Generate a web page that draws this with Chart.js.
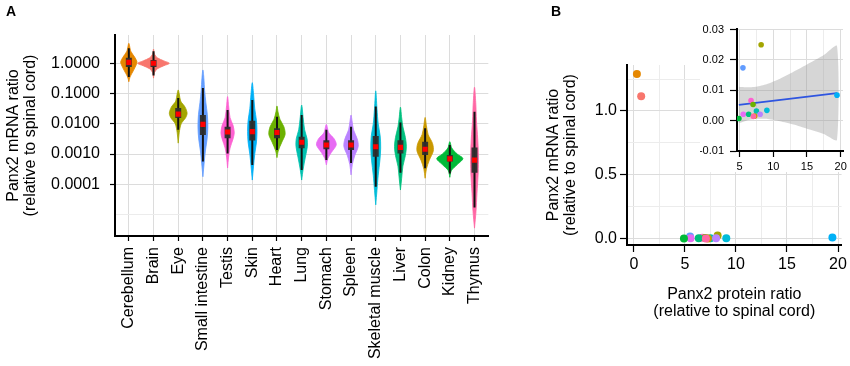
<!DOCTYPE html>
<html>
<head>
<meta charset="utf-8">
<script src="https://cdn.jsdelivr.net/npm/chart.js@4.4.1/dist/chart.umd.min.js"></script>
<style>
  body { margin: 0; background: #fff; }
  #wrap { position: relative; width: 850px; height: 366px; overflow: hidden; background: #fff; }
  canvas { position: absolute; top: 0; }
  .panel { position: absolute; top: 4px; font: bold 14px 'Liberation Sans', Arial, sans-serif; line-height: 14px; color: #000; }
</style>
</head>
<body>
<div id="wrap">
  <canvas id="violins" width="500" height="366" style="left:0"></canvas>
  <canvas id="scatter" width="330" height="366" style="left:520px"></canvas>
  <canvas id="inset" width="150" height="172" style="left:700px;background:#fff"></canvas>
  <div class="panel" style="left:6px">A</div>
  <div class="panel" style="left:551px">B</div>
</div>
<script>
const tissues = ['Cerebellum', 'Brain', 'Eye', 'Small intestine', 'Testis', 'Skin', 'Heart', 'Lung',
  'Stomach', 'Spleen', 'Skeletal muscle', 'Liver', 'Colon', 'Kidney', 'Thymus'];
const tissueColors = ['#E58700', '#F8766D', '#A3A500', '#619CFF', '#FD61D1', '#00B0F6', '#6BB100', '#00C0AF',
  '#E76BF3', '#B983FF', '#00BCD8', '#00BF7D', '#C99800', '#00BA38', '#FF67A4'];

// panel A, log10 of mRNA ratio (relative to spinal cord)
const medianLog = [0.03, 0.0, -1.68, -2.02, -2.27, -2.26, -2.29, -2.61, -2.7, -2.7, -2.76, -2.78, -2.84, -3.16, -3.2];
const boxLowLog = [-0.12, -0.12, -1.81, -2.37, -2.48, -2.55, -2.48, -2.81, -2.84, -2.87, -3.09, -2.98, -3.03, -3.25, -3.62];
const boxHighLog = [0.18, 0.11, -1.48, -1.71, -2.1, -1.9, -2.15, -2.43, -2.54, -2.54, -2.4, -2.54, -2.59, -3.03, -2.78];
const whiskerLowLog = [-0.45, -0.4, -2.2, -3.25, -2.98, -3.36, -2.87, -3.53, -3.2, -3.3, -4.08, -3.62, -3.47, -3.64, -4.77];
const whiskerHighLog = [0.5, 0.4, -1.15, -0.82, -1.54, -1.21, -1.77, -1.71, -2.2, -2.1, -1.43, -1.96, -2.15, -2.7, -1.6];

// violin outlines: log10 level and density half width, bottom tip to top tip
const violinLevels = [
  [-0.61, -0.45, -0.25, -0.05, 0.05, 0.2, 0.4, 0.66],
  [-0.49, -0.3, -0.18, -0.08, 0, 0.08, 0.18, 0.3, 0.47],
  [-2.64, -2.3, -2.0, -1.8, -1.65, -1.45, -1.25, -1.0, -0.88],
  [-3.75, -3.3, -2.9, -2.5, -2.1, -1.7, -1.3, -0.9, -0.5, -0.22],
  [-3.46, -3.1, -2.8, -2.5, -2.3, -2.05, -1.8, -1.4, -1.1],
  [-3.86, -3.4, -3.0, -2.6, -2.25, -1.9, -1.5, -1.0, -0.64],
  [-3.12, -2.9, -2.6, -2.35, -2.1, -1.85, -1.6, -1.41],
  [-3.86, -3.5, -3.1, -2.75, -2.5, -2.2, -1.8, -1.38],
  [-3.36, -3.15, -2.95, -2.7, -2.5, -2.3, -2.02],
  [-3.69, -3.35, -3.05, -2.75, -2.5, -2.2, -1.9, -1.71],
  [-4.68, -4.2, -3.7, -3.2, -2.8, -2.4, -2.0, -1.5, -0.91],
  [-4.19, -3.8, -3.4, -3.05, -2.75, -2.45, -2.1, -1.8, -1.45],
  [-3.8, -3.5, -3.2, -2.9, -2.65, -2.35, -2.05, -1.79],
  [-3.77, -3.55, -3.35, -3.15, -3.0, -2.8, -2.59],
  [-5.45, -4.9, -4.3, -3.6, -3.1, -2.5, -1.9, -1.3, -0.79]
];
const violinWidths = [
  [0, 0.05, 0.18, 0.3, 0.33, 0.24, 0.08, 0],
  [0, 0.04, 0.16, 0.42, 0.64, 0.42, 0.16, 0.04, 0],
  [0, 0.04, 0.12, 0.3, 0.36, 0.28, 0.1, 0.04, 0],
  [0, 0.05, 0.1, 0.17, 0.2, 0.18, 0.12, 0.07, 0.04, 0],
  [0, 0.04, 0.1, 0.22, 0.27, 0.22, 0.1, 0.04, 0],
  [0, 0.05, 0.1, 0.17, 0.19, 0.17, 0.1, 0.05, 0],
  [0, 0.05, 0.2, 0.33, 0.28, 0.12, 0.04, 0],
  [0, 0.06, 0.15, 0.23, 0.22, 0.12, 0.06, 0],
  [0, 0.06, 0.2, 0.4, 0.32, 0.1, 0],
  [0, 0.05, 0.15, 0.29, 0.25, 0.1, 0.04, 0],
  [0, 0.05, 0.1, 0.17, 0.2, 0.18, 0.1, 0.05, 0],
  [0, 0.05, 0.1, 0.2, 0.24, 0.2, 0.1, 0.05, 0],
  [0, 0.05, 0.17, 0.33, 0.3, 0.12, 0.05, 0],
  [0, 0.06, 0.3, 0.53, 0.3, 0.08, 0],
  [0, 0.06, 0.1, 0.15, 0.16, 0.13, 0.08, 0.05, 0]
];

const yTickValuesA = [1, 0.1, 0.01, 0.001, 0.0001];
const yTickLabelsA = ['1.0000', '0.1000', '0.0100', '0.0010', '0.0001'];

// panel B, protein ratio vs mRNA ratio
const proteinRatio = [0.29, 0.71, 8.2, 5.5, 6.7, 19.45, 7.0, 7.5, 5.55, 8.05, 9.05, 6.35, 7.25, 4.9, 7.05];
const mrnaRatio = [1.29, 1.115, 0.025, 0.0174, 0.0066, 0.0084, 0.0053, 0.0032, 0.0021, 0.0021, 0.0034, 0.0021, 0.0015, 0.0007, 0.0014];

// inset: fitted line and its confidence band
const fitX = [4.9, 19.45];
const fitY = [0.0052, 0.0091];
const bandX = [4.9, 6, 7.5, 9, 11, 13, 15, 17.5, 19.45];
const bandUpper = [0.0112, 0.011, 0.0112, 0.012, 0.0138, 0.0161, 0.0185, 0.0216, 0.0246];
const bandLower = [-0.0008, 0.0, 0.0006, 0.0006, -0.0002, -0.0013, -0.0027, -0.0044, -0.0064];

const xTicksB = [0, 5, 10, 15, 20];
const xTickLabelsB = ['0', '5', '10', '15', '20'];
const yTicksB = [0, 0.5, 1.0];
const yTickLabelsB = ['0.0', '0.5', '1.0'];
const xTicksInset = [5, 10, 15, 20];
const xTickLabelsInset = ['5', '10', '15', '20'];
const yTicksInset = [-0.01, 0, 0.01, 0.02, 0.03];
const yTickLabelsInset = ['-0.01', '0.00', '0.01', '0.02', '0.03'];

Chart.defaults.font.family = "'Liberation Sans', Arial, sans-serif";
Chart.defaults.color = '#000';

const MAJOR = '#DCDCDC';
const MINOR = '#ECECEC';

// grid positions from lo to hi, labelled ones get text and a tick mark
function tickSet(values, labelled, labels) {
  return values.map(v => {
    const k = labelled.findIndex(l => Math.abs(l - v) <= Math.abs(v) * 1e-6 + 1e-12);
    return { value: v, major: k >= 0, text: k >= 0 ? labels[k] : '' };
  });
}
function steps(lo, hi, step) {
  const out = [];
  for (let v = lo; v <= hi + step / 1000; v += step) out.push(+v.toFixed(6));
  return out;
}
function gridOpts(tickLength) {
  return {
    color: c => (c.tick && c.tick.major ? MAJOR : MINOR),
    tickColor: c => (c.tick && c.tick.major ? '#000' : 'rgba(0,0,0,0)'),
    tickLength: tickLength,
    tickWidth: 1.2,
    lineWidth: 1
  };
}
const border = { display: true, color: '#000', width: 2 };
const labelCb = (v, i, ticks) => ticks[i].text;
const basePlugins = { legend: { display: false }, tooltip: { enabled: false } };

// ---- panel A ----
const violinSets = tissues.map((t, i) => {
  const lv = violinLevels[i], w = violinWidths[i];
  const pts = [];
  lv.forEach((l, j) => pts.push({ x: i + w[j], y: 10 ** l }));
  for (let j = lv.length - 2; j >= 0; j--) pts.push({ x: i - w[j], y: 10 ** lv[j] });
  return {
    data: pts, showLine: true, fill: 'shape', tension: 0.3,
    backgroundColor: tissueColors[i], borderColor: tissueColors[i], borderWidth: 0.8,
    pointRadius: 0, order: 4
  };
});

const whiskerPts = [];
const boxPts = [];
tissues.forEach((t, i) => {
  whiskerPts.push({ x: i, y: 10 ** whiskerLowLog[i] }, { x: i, y: 10 ** whiskerHighLog[i] }, { x: i, y: null });
  boxPts.push({ x: i, y: 10 ** boxLowLog[i] }, { x: i, y: 10 ** boxHighLog[i] }, { x: i, y: null });
});

new Chart(document.getElementById('violins'), {
  type: 'scatter',
  data: {
    datasets: [
      ...violinSets,
      { data: whiskerPts, showLine: true, borderColor: '#111', borderWidth: 2, pointRadius: 0, order: 3 },
      { data: boxPts, showLine: true, borderColor: 'rgba(45,45,45,0.95)', borderWidth: 6, borderCapStyle: 'butt', pointRadius: 0, order: 2 },
      {
        data: tissues.map((t, i) => ({ x: i, y: 10 ** medianLog[i] })),
        pointStyle: 'rect', pointRadius: 3.6, backgroundColor: '#FF0000', borderWidth: 0, order: 1
      }
    ]
  },
  options: {
    responsive: false,
    animation: false,
    layout: { padding: { left: 0, top: 35, right: 8, bottom: 0 } },
    plugins: basePlugins,
    scales: {
      x: {
        type: 'linear', min: -0.56, max: 14.56,
        afterBuildTicks: s => { s.ticks = tissues.map((t, i) => ({ value: i, major: true, text: t })); },
        afterFit: s => { s.height = 130; },
        ticks: { autoSkip: false, minRotation: 90, maxRotation: 90, padding: 6, font: { size: 16 }, callback: labelCb },
        grid: gridOpts(5),
        border: border
      },
      y: {
        type: 'logarithmic', min: 10 ** -5.71, max: 10 ** 0.936,
        afterBuildTicks: s => { s.ticks = tickSet(steps(-5.5, 0.5, 0.5).map(e => 10 ** e), yTickValuesA, yTickLabelsA); },
        afterFit: s => { s.width = 115; },
        ticks: { padding: 10, font: { size: 16 }, callback: labelCb },
        grid: gridOpts(5),
        border: border,
        title: {
          display: true, text: ['Panx2 mRNA ratio', '(relative to spinal cord)'],
          font: { size: 16, lineHeight: 1.05 }, padding: { top: 5, bottom: 0 }
        }
      }
    }
  }
});

// ---- panel B main ----
new Chart(document.getElementById('scatter'), {
  type: 'scatter',
  data: {
    datasets: [{
      data: proteinRatio.map((p, i) => ({ x: p, y: mrnaRatio[i] })),
      backgroundColor: tissueColors, borderWidth: 0, pointRadius: 4
    }]
  },
  options: {
    responsive: false,
    animation: false,
    layout: { padding: { left: 0, top: 65, right: 5, bottom: 0 } },
    plugins: basePlugins,
    scales: {
      x: {
        type: 'linear', min: -0.68, max: 20.35,
        afterBuildTicks: s => { s.ticks = tickSet(steps(0, 20, 2.5), xTicksB, xTickLabelsB); },
        afterFit: s => { s.height = 121; },
        ticks: { padding: 3, font: { size: 16 }, maxRotation: 0, autoSkip: false, callback: labelCb },
        grid: gridOpts(7),
        border: border,
        title: {
          display: true, text: ['Panx2 protein ratio', '(relative to spinal cord)'],
          font: { size: 16, lineHeight: 1.05 }, padding: { top: 0, bottom: 46 }
        }
      },
      y: {
        type: 'linear', min: -0.05, max: 1.36,
        afterBuildTicks: s => { s.ticks = tickSet(steps(0, 1.25, 0.25), yTicksB, yTickLabelsB); },
        afterFit: s => { s.width = 107; },
        ticks: { padding: 3, font: { size: 16 }, callback: labelCb },
        grid: gridOpts(7),
        border: border,
        title: {
          display: true, text: ['Panx2 mRNA ratio', '(relative to spinal cord)'],
          font: { size: 16, lineHeight: 1.05 }, padding: { top: 25, bottom: 0 }
        }
      }
    }
  }
});

// ---- panel B inset ----
const bandPts = bandX.map((x, i) => ({ x, y: bandUpper[i] }));
for (let i = bandX.length - 1; i >= 0; i--) bandPts.push({ x: bandX[i], y: bandLower[i] });

new Chart(document.getElementById('inset'), {
  type: 'scatter',
  data: {
    datasets: [
      {
        data: bandPts, showLine: true, fill: 'shape', tension: 0.2,
        backgroundColor: 'rgba(153,153,153,0.4)', borderWidth: 0, pointRadius: 0, order: 3
      },
      {
        data: fitX.map((x, i) => ({ x, y: fitY[i] })), showLine: true,
        borderColor: '#2F55E0', borderWidth: 1.8, pointRadius: 0, order: 2
      },
      {
        data: proteinRatio.map((p, i) => ({ x: p, y: mrnaRatio[i] })).filter(p => p.y < 0.03),
        backgroundColor: tissueColors.filter((c, i) => mrnaRatio[i] < 0.03),
        borderWidth: 0, pointRadius: 2.8, order: 1
      }
    ]
  },
  options: {
    responsive: false,
    animation: false,
    layout: { padding: { left: 0, top: 29, right: 7, bottom: 0 } },
    plugins: basePlugins,
    scales: {
      x: {
        type: 'linear', min: 4.62, max: 20.34,
        afterBuildTicks: s => { s.ticks = tickSet(steps(5, 20, 2.5), xTicksInset, xTickLabelsInset); },
        afterFit: s => { s.height = 21; },
        ticks: { padding: 3, font: { size: 11 }, maxRotation: 0, autoSkip: false, callback: labelCb },
        grid: gridOpts(6),
        border: border
      },
      y: {
        type: 'linear', min: -0.01, max: 0.0302,
        afterBuildTicks: s => { s.ticks = tickSet(steps(-0.01, 0.03, 0.005), yTicksInset, yTickLabelsInset); },
        afterFit: s => { s.width = 37; },
        ticks: { padding: 6, font: { size: 11 }, callback: labelCb },
        grid: gridOpts(7),
        border: border
      }
    }
  }
});
</script>
</body>
</html>
